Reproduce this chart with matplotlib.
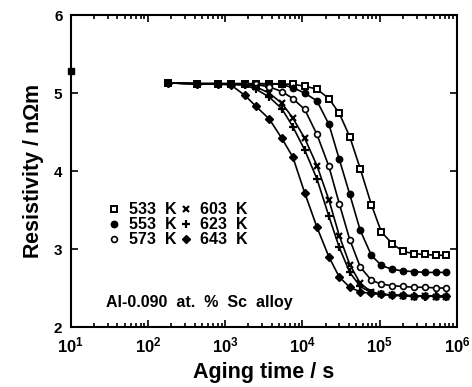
import matplotlib
matplotlib.use('Agg')
import matplotlib.pyplot as plt
from matplotlib.ticker import LogLocator, NullFormatter

plt.rcParams['font.family'] = ['Liberation Sans', 'DejaVu Sans']
plt.rcParams['mathtext.default'] = 'regular'

# ---- data ----
t_quench = [10]
r_quench = [5.28]

times = [180, 430, 800, 1200, 1800, 2500, 3700, 5400, 7500, 10700, 15400, 22000,
         30000, 41000, 56000, 78000, 105000, 145000, 200000, 280000, 390000, 540000, 720000]

r533 = [5.13, 5.12, 5.12, 5.12, 5.12, 5.12, 5.12, 5.12, 5.11, 5.09, 5.05, 4.93,
        4.74, 4.44, 4.03, 3.57, 3.22, 3.07, 2.97, 2.94, 2.93, 2.92, 2.92]
r553 = [5.13, 5.12, 5.12, 5.12, 5.12, 5.12, 5.12, 5.11, 5.07, 5.00, 4.90, 4.60,
        4.15, 3.70, 3.24, 2.92, 2.79, 2.74, 2.72, 2.71, 2.70, 2.70, 2.70]
r573 = [5.13, 5.12, 5.12, 5.12, 5.12, 5.11, 5.08, 5.02, 4.93, 4.79, 4.47, 4.06,
        3.58, 3.12, 2.77, 2.60, 2.55, 2.53, 2.52, 2.51, 2.51, 2.50, 2.50]
r603 = [5.13, 5.12, 5.12, 5.12, 5.11, 5.08, 5.00, 4.87, 4.68, 4.42, 4.07, 3.63,
        3.17, 2.80, 2.56, 2.45, 2.42, 2.41, 2.40, 2.39, 2.40, 2.39, 2.38]
r623 = [5.13, 5.12, 5.12, 5.11, 5.10, 5.05, 4.95, 4.80, 4.57, 4.27, 3.90, 3.42,
        3.02, 2.70, 2.52, 2.44, 2.42, 2.41, 2.40, 2.40, 2.39, 2.40, 2.39]
r643 = [5.13, 5.12, 5.12, 5.10, 4.97, 4.83, 4.67, 4.42, 4.18, 3.72, 3.28, 2.90,
        2.64, 2.51, 2.45, 2.43, 2.42, 2.41, 2.41, 2.40, 2.40, 2.40, 2.40]

labels = ['533  K', '553  K', '573  K', '603  K', '623  K', '643  K']
x_ticks = [1e1, 1e2, 1e3, 1e4, 1e5, 1e6]
x_ticklabels = ['10$^{1}$', '10$^{2}$', '10$^{3}$', '10$^{4}$', '10$^{5}$', '10$^{6}$']
y_ticks = [2, 3, 4, 5, 6]

fig = plt.figure(figsize=(4.72, 3.87), dpi=100)
ax = fig.add_axes([0.150, 0.155, 0.818, 0.806])

styles = [
    dict(marker='s', mfc='white', mec='black', ms=4.6, mew=1.4),
    dict(marker='o', mfc='black', mec='black', ms=4.6),
    dict(marker='o', mfc='white', mec='black', ms=4.2, mew=1.2),
    dict(marker='x', mfc='black', mec='black', ms=4.6, mew=1.6),
    dict(marker='+', mfc='black', mec='black', ms=5.5, mew=1.6),
    dict(marker='D', mfc='black', mec='black', ms=4.2),
]
series = [r533, r553, r573, r603, r623, r643]
for r, lab, st in zip(series, labels, styles):
    ax.plot(times, r, color='black', lw=1.2, label=lab, **st)

ax.plot(t_quench, r_quench, linestyle='none', marker='s', mfc='black', mec='black',
        ms=5, clip_on=False)

ax.set_xscale('log')
ax.set_xlim(1e1, 1e6)
ax.set_ylim(2, 6)
ax.set_xticks(x_ticks)
ax.set_xticklabels(x_ticklabels)
ax.xaxis.set_minor_locator(LogLocator(base=10, subs=range(2, 10), numticks=20))
ax.xaxis.set_minor_formatter(NullFormatter())
ax.set_yticks(y_ticks)
ax.tick_params(which='both', direction='in', top=True, right=True, width=1.2)
ax.tick_params(which='major', length=5)
ax.tick_params(which='minor', length=3)
ax.tick_params(axis='x', labelsize=12, pad=6)
ax.tick_params(axis='y', labelsize=11, pad=6)
for lab in ax.get_xticklabels() + ax.get_yticklabels():
    lab.set_fontweight('bold')
for sp in ax.spines.values():
    sp.set_linewidth(1.5)

ax.set_xlabel('Aging time / s', fontsize=15.5, fontweight='bold', labelpad=5)
ax.set_ylabel('Resistivity / n$\\Omega$m', fontsize=15.5, fontweight='bold', labelpad=6)

handles, labs = ax.get_legend_handles_labels()
leg = ax.legend(handles, labs, ncol=2, loc='upper left', bbox_to_anchor=(0.10, 0.40),
                frameon=False, handlelength=0.6, handletextpad=0.6, columnspacing=0.3,
                labelspacing=0.0, borderpad=0, borderaxespad=0,
                prop=dict(size=11.5, weight='bold'))
for h in leg.legend_handles:
    h.set_linestyle('none')

ax.text(0.091, 0.08, 'Al-0.090  at.  %  Sc  alloy', transform=ax.transAxes,
        fontsize=11.5, fontweight='bold', va='center', ha='left')

fig.savefig('out.png', dpi=100)
